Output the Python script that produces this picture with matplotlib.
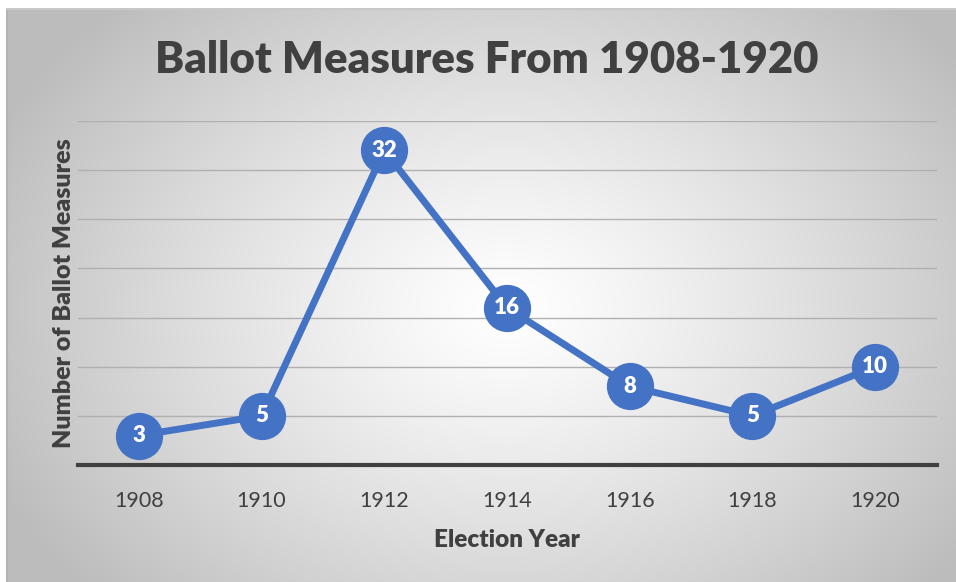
import numpy as np
import matplotlib
matplotlib.use("Agg")
import matplotlib.pyplot as plt

years = ["1908", "1910", "1912", "1914", "1916", "1918", "1920"]
measures = [3, 5, 32, 16, 8, 5, 10]

W, H = 956, 582
fig = plt.figure(figsize=(W / 100, H / 100), dpi=100)
fig.patch.set_facecolor("white")

# radial grey-to-white background of the chart area
bg = fig.add_axes([6 / W, 0, (W - 6) / W, (H - 8) / H])
bg.set_axis_off()
yy, xx = np.mgrid[0:574, 0:950]
cx, cy = 500, 300
d = np.sqrt(((xx - cx) / 560.0) ** 2 + ((yy - cy) / 420.0) ** 2)
d = np.clip(d, 0, 1)
shade = 1.0 - 0.26 * d ** 1.2
bg.imshow(np.dstack([shade] * 3), aspect="auto", extent=[0, 1, 0, 1])
bg.set_xlim(0, 1)
bg.set_ylim(0, 1)
bg.plot([0.0015, 0.0015], [0, 1], color="#b4b4b4", lw=1.5)
bg.plot([0, 1], [0.998, 0.998], color="#c8c8c8", lw=1.5)

ax = fig.add_axes([77.5 / W, (H - 465) / H, (936.5 - 77.5) / W, (465 - 121) / H])
ax.patch.set_alpha(0)
x = np.arange(len(years))
ax.set_xlim(-0.5, len(years) - 0.5)
ax.set_ylim(0, 35)
ax.set_yticks(np.arange(0, 36, 5))
ax.yaxis.grid(True, color="#b0b0b0", lw=1.0)
ax.set_axisbelow(True)
ax.tick_params(axis="y", left=False, labelleft=False)
ax.tick_params(axis="x", length=0, pad=19, labelsize=15.5, labelcolor="#404040")
ax.set_xticks(x)
ax.set_xticklabels(years, family="Lato")
for s in ["top", "right", "left"]:
    ax.spines[s].set_visible(False)
ax.spines["bottom"].set_color("#404040")
ax.spines["bottom"].set_linewidth(3)

ax.plot(x, measures, color="#4472C4", lw=5, marker="o", ms=33,
        markerfacecolor="#4472C4", markeredgecolor="#4472C4", zorder=3,
        solid_joinstyle="round")
for xi, v in zip(x, measures):
    ax.text(xi, v, str(v), ha="center", va="center", color="white",
            fontsize=16, fontweight="heavy", family="Lato", zorder=4)

ax.set_xlabel("Election Year", fontsize=17.5, fontweight="heavy", color="#404040",
              family="Lato", labelpad=13)
ax.set_ylabel("Number of Ballot Measures", fontsize=18, fontweight="heavy",
              color="#404040", family="Lato", labelpad=2)
fig.text(487 / W, 1 - 60 / H, "Ballot Measures From 1908-1920", ha="center",
         va="center", fontsize=31.5, fontweight="heavy", color="#404040",
         family="Lato")

fig.savefig("out.png", dpi=100)
